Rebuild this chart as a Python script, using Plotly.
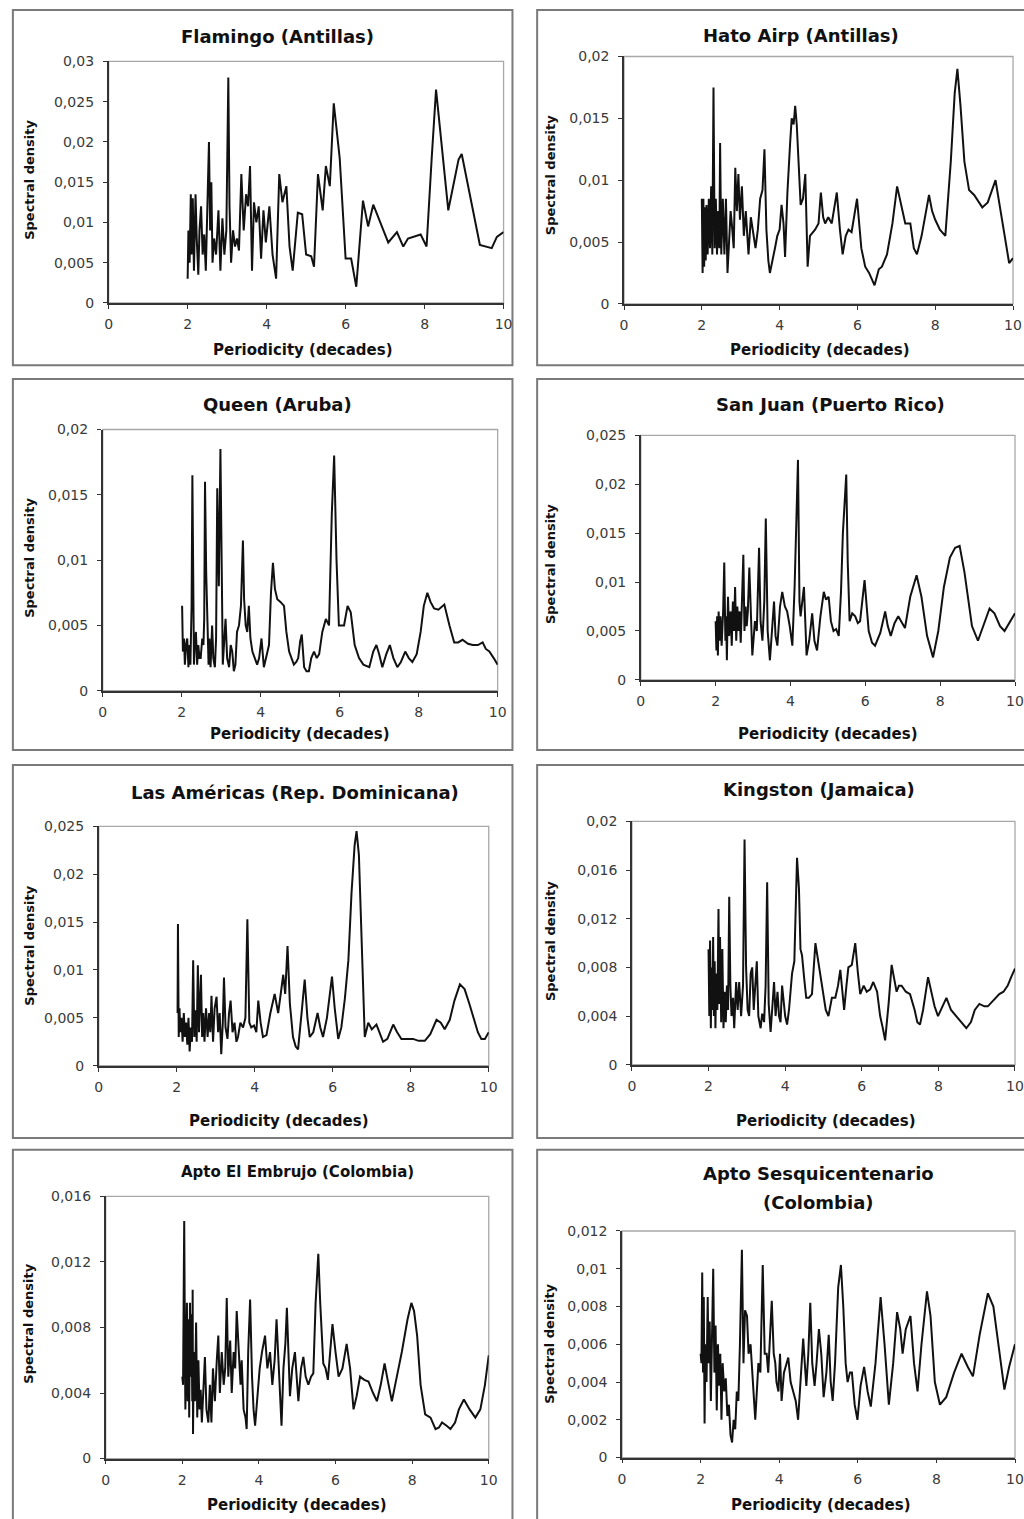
import plotly.graph_objects as go

W, H = 1024, 1519

# ---- spectral density series: (periodicity in decades, density) ----
flamingo = [(2.0, 0.003), (2.02, 0.009), (2.05, 0.005), (2.08, 0.0135), (2.1, 0.006), (2.13, 0.013), (2.16, 0.004),
            (2.2, 0.0135), (2.23, 0.008), (2.27, 0.0035), (2.3, 0.009), (2.34, 0.012), (2.38, 0.006), (2.42, 0.0085),
            (2.46, 0.004), (2.5, 0.0125), (2.54, 0.02), (2.57, 0.009), (2.6, 0.015), (2.63, 0.005), (2.67, 0.008),
            (2.72, 0.006), (2.78, 0.0115), (2.83, 0.004), (2.88, 0.0105), (2.93, 0.006), (2.98, 0.009), (3.03, 0.028),
            (3.06, 0.012), (3.1, 0.005), (3.15, 0.009), (3.2, 0.007), (3.25, 0.008), (3.3, 0.0065), (3.36, 0.016),
            (3.42, 0.009), (3.48, 0.0135), (3.53, 0.012), (3.58, 0.017), (3.63, 0.004), (3.68, 0.0125), (3.74, 0.01),
            (3.8, 0.012), (3.86, 0.0055), (3.92, 0.0115), (3.98, 0.0075), (4.07, 0.012), (4.15, 0.006), (4.24, 0.003),
            (4.32, 0.016), (4.4, 0.0125), (4.5, 0.0145), (4.58, 0.007), (4.66, 0.004), (4.79, 0.0112), (4.9, 0.011),
            (5.0, 0.006), (5.13, 0.0058), (5.2, 0.0045), (5.3, 0.016), (5.38, 0.013), (5.42, 0.0115), (5.5, 0.017),
            (5.6, 0.0145), (5.7, 0.0248), (5.85, 0.018), (6.0, 0.0055), (6.14, 0.0055), (6.27, 0.002), (6.44, 0.0127),
            (6.57, 0.0095), (6.7, 0.0122), (7.08, 0.0075), (7.3, 0.0088), (7.46, 0.007), (7.58, 0.008), (7.9, 0.0085),
            (8.05, 0.007), (8.18, 0.018), (8.29, 0.0265), (8.6, 0.0115), (8.86, 0.0178), (8.94, 0.0185), (9.4, 0.0072),
            (9.7, 0.0068), (9.83, 0.0082), (10.0, 0.0088)]

hato_airp = [(2.0, 0.0085), (2.02, 0.0025), (2.04, 0.0085), (2.06, 0.003), (2.08, 0.0078), (2.1, 0.0035), (2.12, 0.008),
             (2.15, 0.004), (2.18, 0.0085), (2.21, 0.0045), (2.24, 0.0095), (2.27, 0.004), (2.3, 0.0175), (2.33, 0.0045),
             (2.36, 0.0085), (2.39, 0.004), (2.42, 0.0075), (2.45, 0.0045), (2.47, 0.013), (2.5, 0.004), (2.54, 0.0085),
             (2.58, 0.004), (2.62, 0.0085), (2.66, 0.0025), (2.7, 0.005), (2.74, 0.0075), (2.77, 0.0065), (2.82, 0.0045),
             (2.86, 0.011), (2.9, 0.0075), (2.94, 0.0105), (2.98, 0.0068), (3.03, 0.0095), (3.08, 0.0055), (3.13, 0.0075),
             (3.2, 0.004), (3.26, 0.007), (3.32, 0.0058), (3.38, 0.0045), (3.44, 0.006), (3.5, 0.0085), (3.56, 0.0092),
             (3.61, 0.0125), (3.66, 0.006), (3.71, 0.0035), (3.75, 0.0025), (3.82, 0.0035), (3.88, 0.0045), (3.94, 0.0055),
             (4.0, 0.006), (4.05, 0.008), (4.1, 0.0065), (4.14, 0.0038), (4.2, 0.009), (4.27, 0.013), (4.31, 0.015),
             (4.36, 0.0145), (4.4, 0.016), (4.44, 0.0145), (4.48, 0.012), (4.54, 0.008), (4.6, 0.0085), (4.66, 0.0105),
             (4.72, 0.003), (4.78, 0.0055), (4.91, 0.006), (5.0, 0.0065), (5.06, 0.009), (5.12, 0.007), (5.17, 0.0065),
             (5.25, 0.007), (5.34, 0.0065), (5.47, 0.009), (5.55, 0.006), (5.62, 0.004), (5.7, 0.0055), (5.77, 0.006),
             (5.85, 0.0058), (5.99, 0.0085), (6.1, 0.0045), (6.2, 0.003), (6.3, 0.0025), (6.44, 0.0015), (6.55, 0.0028),
             (6.63, 0.003), (6.76, 0.004), (6.9, 0.0065), (7.02, 0.0095), (7.12, 0.008), (7.23, 0.0065), (7.36, 0.0065),
             (7.45, 0.0045), (7.53, 0.004), (7.65, 0.0055), (7.84, 0.0088), (7.92, 0.0075), (8.0, 0.0068), (8.12, 0.006),
             (8.26, 0.0055), (8.4, 0.0115), (8.5, 0.017), (8.57, 0.019), (8.65, 0.016), (8.75, 0.0115), (8.87, 0.0092),
             (9.0, 0.0088), (9.21, 0.0078), (9.35, 0.0082), (9.55, 0.01), (9.65, 0.008), (9.8, 0.005), (9.9, 0.0033),
             (10.0, 0.0037)]

queen = [(2.01, 0.0065), (2.03, 0.003), (2.06, 0.004), (2.08, 0.002), (2.11, 0.0035), (2.14, 0.004), (2.17, 0.0018),
         (2.2, 0.0035), (2.22, 0.002), (2.25, 0.0065), (2.27, 0.0165), (2.29, 0.006), (2.31, 0.002), (2.33, 0.0035),
         (2.36, 0.0045), (2.39, 0.002), (2.42, 0.0035), (2.45, 0.0025), (2.48, 0.0025), (2.52, 0.004), (2.55, 0.0035),
         (2.57, 0.0055), (2.59, 0.016), (2.62, 0.009), (2.65, 0.006), (2.68, 0.002), (2.7, 0.004), (2.73, 0.0018),
         (2.77, 0.005), (2.8, 0.0025), (2.84, 0.0018), (2.87, 0.004), (2.9, 0.0155), (2.94, 0.008), (2.98, 0.0185),
         (3.01, 0.009), (3.04, 0.002), (3.08, 0.004), (3.11, 0.0055), (3.15, 0.0025), (3.2, 0.0018), (3.24, 0.0035),
         (3.28, 0.003), (3.32, 0.0015), (3.36, 0.002), (3.4, 0.0045), (3.45, 0.005), (3.5, 0.0065), (3.55, 0.0115),
         (3.58, 0.007), (3.62, 0.005), (3.66, 0.0045), (3.7, 0.0065), (3.74, 0.004), (3.79, 0.003), (3.85, 0.0025),
         (3.91, 0.002), (3.96, 0.0025), (4.02, 0.004), (4.08, 0.0018), (4.14, 0.0025), (4.21, 0.0035), (4.26, 0.0075),
         (4.31, 0.0098), (4.36, 0.0078), (4.42, 0.007), (4.5, 0.0068), (4.59, 0.0065), (4.65, 0.0045), (4.72, 0.003),
         (4.78, 0.0025), (4.84, 0.002), (4.9, 0.0022), (4.95, 0.0025), (5.0, 0.0038), (5.04, 0.0043), (5.1, 0.0018),
         (5.16, 0.0015), (5.22, 0.0015), (5.28, 0.0025), (5.35, 0.003), (5.42, 0.0025), (5.48, 0.0028), (5.56, 0.0045),
         (5.65, 0.0055), (5.73, 0.005), (5.8, 0.0135), (5.86, 0.018), (5.92, 0.01), (5.98, 0.005), (6.05, 0.005),
         (6.11, 0.005), (6.2, 0.0065), (6.28, 0.006), (6.38, 0.0035), (6.49, 0.0025), (6.6, 0.002), (6.75, 0.0018),
         (6.85, 0.003), (6.93, 0.0035), (7.0, 0.0028), (7.08, 0.0018), (7.18, 0.0028), (7.27, 0.0035), (7.36, 0.0025),
         (7.46, 0.0018), (7.55, 0.0022), (7.66, 0.003), (7.75, 0.0025), (7.84, 0.0022), (7.95, 0.0028), (8.05, 0.0045),
         (8.13, 0.0065), (8.22, 0.0075), (8.3, 0.0068), (8.39, 0.0063), (8.5, 0.0062), (8.65, 0.0066), (8.78, 0.005),
         (8.9, 0.0037), (9.0, 0.0037), (9.11, 0.0039), (9.25, 0.0036), (9.37, 0.0035), (9.5, 0.0035), (9.62, 0.0037),
         (9.7, 0.0032), (9.79, 0.003), (9.9, 0.0025), (10.0, 0.002)]

san_juan = [(2.0, 0.006), (2.02, 0.003), (2.04, 0.0065), (2.06, 0.0025), (2.08, 0.007), (2.1, 0.004), (2.13, 0.0065),
            (2.16, 0.0035), (2.2, 0.007), (2.23, 0.012), (2.26, 0.004), (2.28, 0.0065), (2.3, 0.002), (2.33, 0.0085),
            (2.36, 0.0045), (2.4, 0.007), (2.43, 0.0035), (2.46, 0.008), (2.49, 0.005), (2.52, 0.0095), (2.55, 0.004),
            (2.58, 0.0075), (2.61, 0.005), (2.64, 0.007), (2.67, 0.0038), (2.7, 0.0085), (2.74, 0.0128), (2.77, 0.005),
            (2.8, 0.0075), (2.83, 0.0055), (2.86, 0.007), (2.9, 0.0115), (2.94, 0.006), (2.98, 0.0025), (3.05, 0.006),
            (3.1, 0.005), (3.16, 0.0135), (3.2, 0.006), (3.25, 0.004), (3.3, 0.008), (3.34, 0.0165), (3.39, 0.005),
            (3.45, 0.002), (3.5, 0.005), (3.56, 0.008), (3.6, 0.0045), (3.65, 0.0035), (3.72, 0.0075), (3.78, 0.009),
            (3.85, 0.0075), (3.91, 0.007), (3.98, 0.0055), (4.05, 0.0035), (4.11, 0.0095), (4.2, 0.0225), (4.24, 0.008),
            (4.27, 0.0065), (4.36, 0.0095), (4.43, 0.0025), (4.5, 0.004), (4.58, 0.0068), (4.64, 0.004), (4.71, 0.003),
            (4.8, 0.0065), (4.89, 0.009), (4.95, 0.0082), (5.02, 0.0085), (5.08, 0.006), (5.15, 0.005), (5.22, 0.0052),
            (5.29, 0.0045), (5.35, 0.009), (5.4, 0.015), (5.49, 0.021), (5.53, 0.012), (5.58, 0.006), (5.65, 0.0068),
            (5.73, 0.0065), (5.8, 0.0058), (5.86, 0.006), (5.98, 0.0102), (6.09, 0.005), (6.18, 0.0038), (6.26, 0.0035),
            (6.4, 0.0048), (6.53, 0.007), (6.6, 0.0055), (6.68, 0.0045), (6.78, 0.0058), (6.88, 0.0065), (6.95, 0.006),
            (7.06, 0.0053), (7.2, 0.0085), (7.37, 0.0107), (7.5, 0.0085), (7.65, 0.0045), (7.81, 0.0023), (7.95, 0.005),
            (8.1, 0.0095), (8.26, 0.0125), (8.4, 0.0135), (8.52, 0.0137), (8.65, 0.011), (8.85, 0.0055), (9.01, 0.004),
            (9.15, 0.0055), (9.32, 0.0073), (9.45, 0.0068), (9.6, 0.0055), (9.72, 0.005), (9.85, 0.0058), (10.0, 0.0068)]

las_americas = [(2.02, 0.0055), (2.03, 0.0148), (2.05, 0.003), (2.07, 0.006), (2.09, 0.0035), (2.12, 0.005),
                (2.15, 0.0025), (2.18, 0.0055), (2.21, 0.003), (2.24, 0.0045), (2.27, 0.0022), (2.3, 0.005),
                (2.33, 0.0015), (2.36, 0.004), (2.39, 0.0025), (2.42, 0.011), (2.45, 0.003), (2.48, 0.0058),
                (2.51, 0.0025), (2.54, 0.0105), (2.57, 0.0035), (2.6, 0.0065), (2.62, 0.0095), (2.65, 0.003),
                (2.68, 0.0055), (2.71, 0.0025), (2.75, 0.006), (2.79, 0.003), (2.83, 0.0055), (2.86, 0.0035),
                (2.89, 0.0073), (2.93, 0.0025), (2.97, 0.006), (3.02, 0.0072), (3.06, 0.0035), (3.1, 0.0055),
                (3.14, 0.0012), (3.18, 0.0045), (3.21, 0.0092), (3.25, 0.004), (3.3, 0.0028), (3.34, 0.0055),
                (3.38, 0.0068), (3.43, 0.0035), (3.48, 0.0045), (3.53, 0.0025), (3.57, 0.003), (3.63, 0.0045),
                (3.7, 0.004), (3.76, 0.005), (3.81, 0.0153), (3.86, 0.0045), (3.91, 0.004), (3.98, 0.0042),
                (4.04, 0.0035), (4.09, 0.0068), (4.15, 0.0045), (4.21, 0.003), (4.3, 0.0032), (4.4, 0.0055),
                (4.51, 0.0075), (4.6, 0.0055), (4.67, 0.0075), (4.73, 0.0095), (4.78, 0.0075), (4.84, 0.0125),
                (4.9, 0.0065), (4.98, 0.003), (5.05, 0.002), (5.11, 0.0017), (5.2, 0.0055), (5.28, 0.009),
                (5.35, 0.005), (5.41, 0.003), (5.5, 0.0035), (5.61, 0.0055), (5.68, 0.004), (5.75, 0.003),
                (5.85, 0.005), (5.98, 0.0093), (6.05, 0.006), (6.14, 0.0028), (6.22, 0.004), (6.31, 0.007),
                (6.4, 0.011), (6.48, 0.018), (6.56, 0.023), (6.61, 0.0245), (6.67, 0.022), (6.74, 0.013),
                (6.82, 0.003), (6.91, 0.0045), (7.0, 0.0038), (7.12, 0.0043), (7.2, 0.0035), (7.29, 0.0025),
                (7.4, 0.0028), (7.55, 0.0043), (7.65, 0.0035), (7.76, 0.0028), (7.9, 0.0028), (8.06, 0.0028),
                (8.2, 0.0026), (8.36, 0.0026), (8.5, 0.0033), (8.66, 0.0048), (8.77, 0.0045), (8.87, 0.0038),
                (9.0, 0.0048), (9.12, 0.0068), (9.26, 0.0085), (9.38, 0.008), (9.5, 0.0065), (9.64, 0.0045),
                (9.72, 0.0035), (9.81, 0.0028), (9.9, 0.0028), (10.0, 0.0035)]

kingston = [(2.0, 0.0095), (2.02, 0.004), (2.04, 0.0102), (2.06, 0.003), (2.08, 0.008), (2.1, 0.0045), (2.12, 0.0105),
            (2.14, 0.004), (2.16, 0.0085), (2.18, 0.003), (2.2, 0.0075), (2.23, 0.0045), (2.26, 0.0128), (2.28, 0.005),
            (2.3, 0.0105), (2.33, 0.0035), (2.36, 0.0095), (2.39, 0.003), (2.42, 0.006), (2.45, 0.0035), (2.48, 0.0065),
            (2.51, 0.0045), (2.54, 0.0138), (2.57, 0.0065), (2.6, 0.004), (2.64, 0.0055), (2.67, 0.003), (2.72, 0.0068),
            (2.76, 0.0045), (2.8, 0.0068), (2.85, 0.004), (2.9, 0.0065), (2.94, 0.0185), (2.98, 0.008), (3.02, 0.0045),
            (3.06, 0.004), (3.1, 0.0075), (3.14, 0.008), (3.18, 0.0045), (3.22, 0.0065), (3.26, 0.0085), (3.3, 0.004),
            (3.36, 0.003), (3.4, 0.0042), (3.45, 0.0035), (3.49, 0.0065), (3.53, 0.015), (3.57, 0.005), (3.62, 0.0027),
            (3.66, 0.0045), (3.71, 0.0068), (3.75, 0.004), (3.8, 0.006), (3.84, 0.004), (3.88, 0.0035), (3.92, 0.0065),
            (3.96, 0.005), (4.0, 0.004), (4.05, 0.0033), (4.1, 0.0045), (4.18, 0.0075), (4.24, 0.0085), (4.31, 0.017),
            (4.36, 0.0145), (4.4, 0.0095), (4.44, 0.009), (4.5, 0.007), (4.55, 0.0055), (4.62, 0.0055), (4.7, 0.0058),
            (4.79, 0.01), (4.86, 0.0085), (4.92, 0.0075), (5.0, 0.0055), (5.06, 0.0045), (5.13, 0.004), (5.22, 0.0055),
            (5.31, 0.0055), (5.38, 0.0065), (5.44, 0.0078), (5.5, 0.006), (5.54, 0.0045), (5.6, 0.0065), (5.65, 0.008),
            (5.74, 0.0082), (5.83, 0.01), (5.9, 0.0075), (5.96, 0.0058), (6.05, 0.0065), (6.13, 0.006), (6.22, 0.0062),
            (6.3, 0.0068), (6.4, 0.006), (6.48, 0.004), (6.55, 0.003), (6.61, 0.002), (6.7, 0.005), (6.78, 0.0082),
            (6.85, 0.007), (6.91, 0.006), (6.97, 0.0065), (7.04, 0.0065), (7.15, 0.006), (7.26, 0.0058), (7.38, 0.0045),
            (7.45, 0.0035), (7.52, 0.0033), (7.6, 0.0045), (7.73, 0.0072), (7.82, 0.006), (7.9, 0.0048), (7.99, 0.004),
            (8.1, 0.0048), (8.21, 0.0055), (8.33, 0.0045), (8.47, 0.004), (8.6, 0.0035), (8.73, 0.003), (8.85, 0.0035),
            (8.95, 0.0045), (9.07, 0.005), (9.2, 0.0048), (9.29, 0.0048), (9.4, 0.0052), (9.5, 0.0055), (9.59, 0.0058),
            (9.7, 0.006), (9.81, 0.0065), (9.9, 0.0072), (10.0, 0.0079)]

el_embrujo = [(2.0, 0.005), (2.02, 0.0045), (2.04, 0.0115), (2.05, 0.0145), (2.07, 0.006), (2.08, 0.003), (2.1, 0.0055),
              (2.12, 0.0095), (2.14, 0.0035), (2.16, 0.0085), (2.18, 0.0025), (2.2, 0.0095), (2.22, 0.005),
              (2.24, 0.0088), (2.26, 0.0035), (2.27, 0.0103), (2.28, 0.0015), (2.3, 0.0065), (2.33, 0.0035),
              (2.36, 0.0083), (2.39, 0.0025), (2.42, 0.006), (2.45, 0.003), (2.48, 0.0042), (2.51, 0.0022),
              (2.55, 0.0045), (2.59, 0.0062), (2.63, 0.003), (2.68, 0.0022), (2.72, 0.0045), (2.76, 0.0022),
              (2.8, 0.0055), (2.85, 0.0035), (2.9, 0.006), (2.94, 0.0075), (2.98, 0.004), (3.03, 0.0065),
              (3.08, 0.0045), (3.12, 0.0055), (3.16, 0.0098), (3.2, 0.005), (3.25, 0.0072), (3.29, 0.004),
              (3.34, 0.0065), (3.38, 0.0055), (3.42, 0.009), (3.47, 0.0065), (3.52, 0.0045), (3.55, 0.006),
              (3.6, 0.003), (3.65, 0.0025), (3.68, 0.0018), (3.72, 0.0065), (3.77, 0.0097), (3.82, 0.005),
              (3.86, 0.003), (3.9, 0.002), (3.96, 0.004), (4.02, 0.0055), (4.08, 0.0065), (4.16, 0.0075),
              (4.22, 0.0055), (4.29, 0.0065), (4.35, 0.0045), (4.41, 0.006), (4.46, 0.0085), (4.52, 0.005),
              (4.56, 0.0035), (4.59, 0.002), (4.64, 0.0055), (4.69, 0.007), (4.73, 0.0092), (4.77, 0.006),
              (4.81, 0.0038), (4.87, 0.0055), (4.94, 0.0065), (5.0, 0.0045), (5.03, 0.0035), (5.1, 0.0055),
              (5.16, 0.0062), (5.22, 0.005), (5.29, 0.0045), (5.36, 0.005), (5.42, 0.0052), (5.48, 0.0095),
              (5.55, 0.0125), (5.6, 0.0095), (5.68, 0.0058), (5.74, 0.0055), (5.8, 0.0048), (5.86, 0.0065),
              (5.92, 0.0082), (6.0, 0.0065), (6.08, 0.005), (6.18, 0.0055), (6.29, 0.007), (6.38, 0.0055),
              (6.47, 0.003), (6.55, 0.0038), (6.64, 0.005), (6.75, 0.0048), (6.86, 0.0047), (6.98, 0.004),
              (7.08, 0.0035), (7.18, 0.0045), (7.28, 0.0058), (7.36, 0.0048), (7.47, 0.0035), (7.6, 0.005),
              (7.73, 0.0065), (7.88, 0.0085), (7.98, 0.0095), (8.05, 0.009), (8.13, 0.0075), (8.22, 0.0045),
              (8.34, 0.0027), (8.48, 0.0025), (8.61, 0.0018), (8.7, 0.0019), (8.78, 0.0022), (8.9, 0.002),
              (9.0, 0.0018), (9.12, 0.0022), (9.22, 0.003), (9.35, 0.0036), (9.5, 0.003), (9.65, 0.0025),
              (9.78, 0.003), (9.9, 0.0045), (10.0, 0.0063)]

sesquicentenario = [(2.0, 0.0055), (2.02, 0.005), (2.04, 0.0098), (2.06, 0.0045), (2.08, 0.0085), (2.1, 0.0018),
                    (2.12, 0.006), (2.15, 0.004), (2.18, 0.0085), (2.2, 0.005), (2.23, 0.0072), (2.26, 0.003),
                    (2.29, 0.0065), (2.32, 0.01), (2.35, 0.0045), (2.38, 0.007), (2.41, 0.0025), (2.44, 0.006),
                    (2.47, 0.0038), (2.5, 0.0055), (2.53, 0.002), (2.56, 0.005), (2.6, 0.0035), (2.64, 0.0042),
                    (2.68, 0.0022), (2.72, 0.0028), (2.76, 0.0012), (2.8, 0.0008), (2.84, 0.002), (2.88, 0.0015),
                    (2.92, 0.0035), (2.96, 0.003), (3.0, 0.006), (3.05, 0.011), (3.09, 0.005), (3.13, 0.0078),
                    (3.18, 0.0075), (3.22, 0.0055), (3.27, 0.006), (3.32, 0.004), (3.36, 0.003), (3.39, 0.002),
                    (3.43, 0.0035), (3.47, 0.005), (3.52, 0.0045), (3.58, 0.0102), (3.63, 0.0055), (3.68, 0.0055),
                    (3.72, 0.0045), (3.76, 0.0065), (3.81, 0.0083), (3.86, 0.0055), (3.9, 0.005), (3.93, 0.004),
                    (3.98, 0.0035), (4.02, 0.0055), (4.06, 0.003), (4.12, 0.0045), (4.18, 0.005), (4.23, 0.0053),
                    (4.29, 0.004), (4.35, 0.0035), (4.42, 0.003), (4.48, 0.002), (4.55, 0.0045), (4.61, 0.0063),
                    (4.65, 0.005), (4.69, 0.0038), (4.74, 0.0055), (4.79, 0.0082), (4.84, 0.005), (4.9, 0.0038),
                    (4.95, 0.005), (5.01, 0.0068), (5.07, 0.0055), (5.13, 0.0032), (5.2, 0.0045), (5.26, 0.0065),
                    (5.31, 0.004), (5.36, 0.003), (5.42, 0.005), (5.5, 0.009), (5.57, 0.0102), (5.63, 0.008),
                    (5.69, 0.005), (5.74, 0.004), (5.8, 0.0045), (5.85, 0.0045), (5.92, 0.0028), (5.99, 0.002),
                    (6.07, 0.0038), (6.16, 0.0048), (6.25, 0.0035), (6.33, 0.0027), (6.45, 0.005), (6.58, 0.0085),
                    (6.68, 0.006), (6.79, 0.0028), (6.9, 0.005), (7.0, 0.0077), (7.08, 0.0068), (7.14, 0.0055),
                    (7.22, 0.0068), (7.34, 0.0075), (7.43, 0.005), (7.52, 0.0035), (7.62, 0.006), (7.76, 0.0088),
                    (7.85, 0.0075), (7.96, 0.004), (8.09, 0.0028), (8.25, 0.0032), (8.45, 0.0045), (8.64, 0.0055),
                    (8.8, 0.0048), (8.93, 0.0043), (9.1, 0.0065), (9.31, 0.0087), (9.45, 0.008), (9.58, 0.006),
                    (9.73, 0.0036), (9.85, 0.0048), (10.0, 0.006)]

# ---- axis ticks (decimal comma labels) ----
x_tick_vals = [0, 2, 4, 6, 8, 10]
x_tick_text = ["0", "2", "4", "6", "8", "10"]
y_ticks_030 = [0, 0.005, 0.01, 0.015, 0.02, 0.025, 0.03]
y_text_030 = ["0", "0,005", "0,01", "0,015", "0,02", "0,025", "0,03"]
y_ticks_020 = [0, 0.005, 0.01, 0.015, 0.02]
y_text_020 = ["0", "0,005", "0,01", "0,015", "0,02"]
y_ticks_025 = [0, 0.005, 0.01, 0.015, 0.02, 0.025]
y_text_025 = ["0", "0,005", "0,01", "0,015", "0,02", "0,025"]
y_ticks_020b = [0, 0.004, 0.008, 0.012, 0.016, 0.02]
y_text_020b = ["0", "0,004", "0,008", "0,012", "0,016", "0,02"]
y_ticks_016 = [0, 0.004, 0.008, 0.012, 0.016]
y_text_016 = ["0", "0,004", "0,008", "0,012", "0,016"]
y_ticks_012 = [0, 0.002, 0.004, 0.006, 0.008, 0.01, 0.012]
y_text_012 = ["0", "0,002", "0,004", "0,006", "0,008", "0,01", "0,012"]

titles = ["Flamingo (Antillas)", "Hato Airp (Antillas)", "Queen (Aruba)", "San Juan (Puerto Rico)",
          "Las Américas (Rep. Dominicana)", "Kingston (Jamaica)", "Apto El Embrujo (Colombia)",
          "Apto Sesquicentenario", "(Colombia)"]
x_title = "Periodicity (decades)"
y_title = "Spectral density"

# ---- panel geometry in figure pixels: plot box, outer frame, text anchors ----
panels = [
    dict(series=flamingo, ymax=0.03, yt=(y_ticks_030, y_text_030), plot=(106, 506, 54, 298),
         frame=(9, 515, 2, 361), titles=[(titles[0], 277, 29, 18)], xlab=(303, 346), ylab=(25, 174)),
    dict(series=hato_airp, ymax=0.02, yt=(y_ticks_020, y_text_020), plot=(628, 1022, 49, 299),
         frame=(540, 1050, 2, 361), titles=[(titles[1], 807, 28, 18)], xlab=(826, 346), ylab=(553, 169)),
    dict(series=queen, ymax=0.02, yt=(y_ticks_020, y_text_020), plot=(100, 500, 426, 690),
         frame=(9, 515, 375, 750), titles=[(titles[2], 277, 401, 18)], xlab=(300, 734), ylab=(25, 556)),
    dict(series=san_juan, ymax=0.025, yt=(y_ticks_025, y_text_025), plot=(645, 1024, 432, 679),
         frame=(540, 1050, 375, 750), titles=[(titles[3], 837, 401, 18)], xlab=(835, 734), ylab=(553, 562)),
    dict(series=las_americas, ymax=0.025, yt=(y_ticks_025, y_text_025), plot=(96, 491, 827, 1069),
         frame=(9, 515, 765, 1142), titles=[(titles[4], 295, 793, 18)], xlab=(279, 1125), ylab=(25, 948)),
    dict(series=kingston, ymax=0.02, yt=(y_ticks_020b, y_text_020b), plot=(636, 1024, 822, 1068),
         frame=(540, 1050, 765, 1142), titles=[(titles[5], 825, 790, 18)], xlab=(833, 1125), ylab=(553, 943)),
    dict(series=el_embrujo, ymax=0.016, yt=(y_ticks_016, y_text_016), plot=(103, 491, 1201, 1466),
         frame=(9, 515, 1154, 1560), titles=[(titles[6], 297, 1176, 15)], xlab=(297, 1513), ylab=(25, 1330)),
    dict(series=sesquicentenario, ymax=0.012, yt=(y_ticks_012, y_text_012), plot=(626, 1024, 1236, 1465),
         frame=(540, 1050, 1154, 1560), titles=[(titles[7], 825, 1178, 18), (titles[8], 825, 1207, 18)],
         xlab=(827, 1513), ylab=(553, 1350)),
]

FONT = "DejaVu Sans"
fig = go.Figure()
shapes, annotations = [], []
layout_axes = {}


def px(x):
    return x / W


def py(y):
    return 1 - y / H


def clamp(v):
    return max(0.0, min(1.0, v))


for i, p in enumerate(panels):
    n = "" if i == 0 else str(i + 1)
    xs = [pt[0] for pt in p["series"]]
    ys = [pt[1] for pt in p["series"]]
    fig.add_trace(go.Scatter(x=xs, y=ys, mode="lines", xaxis="x" + n, yaxis="y" + n,
                             line=dict(color="#111111", width=2), showlegend=False, hoverinfo="skip"))
    x0, x1, y0, y1 = p["plot"]
    common = dict(showgrid=False, zeroline=False, showline=True, linecolor="#333333", linewidth=1.6,
                  ticks="outside", ticklen=4, tickcolor="#333333", tickwidth=1.4,
                  tickfont=dict(family=FONT, size=14, color="#3a3a3a"), fixedrange=True)
    layout_axes["xaxis" + n] = dict(domain=[clamp(px(x0)), clamp(px(x1))], range=[0, 10], anchor="y" + n,
                                    tickmode="array", tickvals=x_tick_vals, ticktext=x_tick_text,
                                    ticklabelstandoff=4, **common)
    layout_axes["yaxis" + n] = dict(domain=[clamp(py(y1)), clamp(py(y0))], range=[0, p["ymax"]], anchor="x" + n,
                                    tickmode="array", tickvals=p["yt"][0], ticktext=p["yt"][1],
                                    ticklabelstandoff=6, **common)
    # light plot-area frame
    shapes.append(dict(type="rect", xref="paper", yref="paper", x0=px(x0), x1=px(x1), y0=py(y1), y1=py(y0),
                       line=dict(color="#a8a8a8", width=1.3), layer="below"))
    # outer chart frame
    fx0, fx1, fy0, fy1 = p["frame"]
    shapes.append(dict(type="rect", xref="paper", yref="paper", x0=px(fx0), x1=px(fx1), y0=py(fy1), y1=py(fy0),
                       line=dict(color="#7a7a7a", width=2), layer="below"))
    for text, cx, cy, size in p["titles"]:
        annotations.append(dict(text="<b>" + text + "</b>", x=px(cx), y=py(cy), xref="paper", yref="paper",
                                xanchor="center", yanchor="middle", showarrow=False,
                                font=dict(family=FONT, size=size, color="#111111")))
    annotations.append(dict(text="<b>" + x_title + "</b>", x=px(p["xlab"][0]), y=py(p["xlab"][1]),
                            xref="paper", yref="paper", xanchor="center", yanchor="middle", showarrow=False,
                            font=dict(family=FONT, size=15, color="#111111")))
    annotations.append(dict(text="<b>" + y_title + "</b>", x=px(p["ylab"][0]), y=py(p["ylab"][1]),
                            xref="paper", yref="paper", xanchor="center", yanchor="middle", showarrow=False,
                            textangle=-90, font=dict(family=FONT, size=13, color="#111111")))

fig.update_layout(width=W, height=H, margin=dict(l=0, r=0, t=0, b=0), paper_bgcolor="white",
                  plot_bgcolor="white", showlegend=False, shapes=shapes, annotations=annotations, **layout_axes)

fig.write_html("out.html", config={"displayModeBar": False})
